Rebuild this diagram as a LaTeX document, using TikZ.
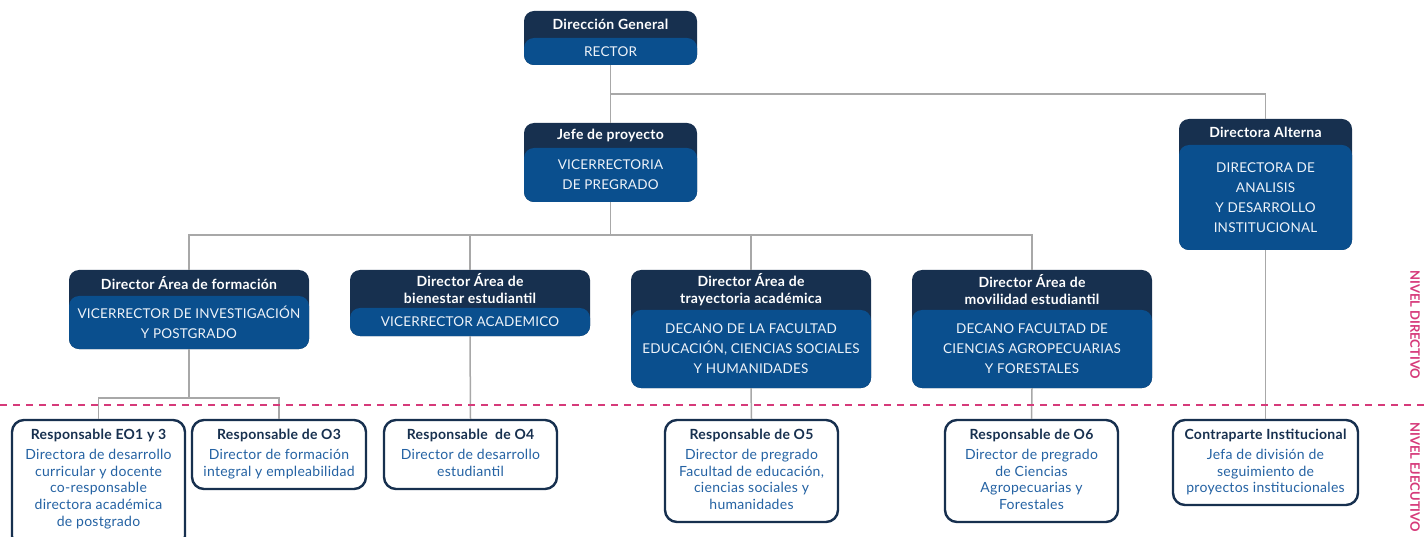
\documentclass[tikz,border=0pt]{standalone}
\usepackage{fontspec}
\setmainfont{Lato}
\definecolor{navy}{HTML}{17304F}
\definecolor{bluebox}{HTML}{0A4F8E}
\definecolor{rtext}{HTML}{2462A3}
\definecolor{pinkl}{HTML}{D63A7A}
\definecolor{conn}{HTML}{A8A8A8}
\definecolor{bodytxt}{HTML}{EEF3F9}
\tikzset{
  frame/.style={inner sep=0pt, draw=none},
  hdr/.style={inner sep=0pt, align=center, text=white, font=\fontsize{14}{17}\selectfont\bfseries\addfontfeature{LetterSpace=2}},
  bdy/.style={inner sep=0pt, align=center, text=bodytxt, font=\fontsize{13.5}{20}\selectfont\addfontfeature{LetterSpace=1.5}},
  resp/.style={draw=navy, line width=2.4pt, rounded corners=12pt, fill=white, inner sep=0pt},
  rtitle/.style={inner sep=0pt, align=center, text=navy, font=\fontsize{14}{16}\selectfont\bfseries\addfontfeature{LetterSpace=2}},
  rbody/.style={inner sep=0pt, align=center, text=rtext, font=\fontsize{14}{16.7}\selectfont\addfontfeature{LetterSpace=2}},
  cline/.style={draw=conn, line width=1.5pt},
  lvl/.style={inner sep=0pt, text=pinkl, font=\fontsize{13}{14}\selectfont\bfseries},
}
\newcommand\OrgBox[8]{%
  \fill[navy, rounded corners=10pt] (#2,#3) rectangle (#4,#5);
  \fill[bluebox, rounded corners=10pt] (#2,#6) rectangle (#4,#5);
  \node[frame, minimum width={#4pt-#2pt}, minimum height={#5pt-#3pt}] (#1) at ({(#2+#4)/2},{(#3+#5)/2}) {};
  \node[hdr] (#1-h) at ({(#2+#4)/2},{(#3+#6)/2}) {#7};
  \node[bdy] (#1-b) at ({(#2+#4)/2},{(#6+#5)/2}) {#8};
}
\newcommand\RespBox[7]{%
  \node[resp, minimum width={#4pt-#2pt}, minimum height={#5pt-#3pt}] (#1) at ({(#2+#4)/2},{(#3+#5)/2}) {};
  \node[rtitle] (#1-t) at ({(#2+#4)/2},{#3+15}) {#6};
  \node[rbody, anchor=north] (#1-b) at ({(#2+#4)/2},{#3+29}) {#7};
}
\begin{document}
\begin{tikzpicture}[x=1pt,y=-1pt]
\useasboundingbox (0,0) rectangle (1424,537);

\coordinate (j1) at (610.5,94);
\coordinate (j2) at (610.5,235);
\coordinate (j3) at (189,398);

\OrgBox{dg}{524}{11}{697}{65}{38}{Dirección General}{RECTOR}
\OrgBox{jefe}{524}{123}{697}{202}{148}{Jefe de proyecto}{VICERRECTORIA\\DE PREGRADO}
\OrgBox{alt}{1179}{119}{1352}{250}{145}{Directora Alterna}{DIRECTORA DE\\ANALISIS\\Y DESARROLLO\\INSTITUCIONAL}
\OrgBox{d1}{69}{270}{309}{349}{296}{Director Área de formación}{VICERRECTOR DE INVESTIGACIÓN\\Y POSTGRADO}
\OrgBox{d2}{350}{270}{590}{336}{308}{Director Área de\\bienestar estudiantil}{VICERRECTOR ACADEMICO}
\OrgBox{d3}{631}{270}{871}{388}{310}{Director Área de\\trayectoria académica}{DECANO DE LA FACULTAD\\EDUCACIÓN, CIENCIAS SOCIALES\\Y HUMANIDADES}
\OrgBox{d4}{912}{270}{1152}{388}{310}{Director Área de\\movilidad estudiantil}{DECANO FACULTAD DE\\CIENCIAS AGROPECUARIAS\\Y FORESTALES}

\RespBox{r1}{12}{420}{185}{548}{Responsable EO1 y 3}{Directora de desarrollo\\curricular y docente\\co-responsable\\directora académica\\de postgrado}
\RespBox{r3}{192}{420}{366}{489}{Responsable de O3}{Director de formación\\integral y empleabilidad}
\RespBox{r4}{384}{420}{557}{489}{Responsable\ \ de O4}{Director de desarrollo\\estudiantil}
\RespBox{r5}{665}{420}{838}{522}{Responsable de O5}{Director de pregrado\\Facultad de educación,\\ciencias sociales y\\humanidades}
\RespBox{r6}{945}{420}{1118}{522}{Responsable de O6}{Director de pregrado\\de Ciencias\\Agropecuarias y\\Forestales}
\RespBox{rc}{1173}{420}{1358}{505}{Contraparte Institucional}{Jefa de división de\\seguimiento de\\proyectos institucionales}

% connectors
\draw[cline] (dg.south) -- (jefe.north);
\draw[cline] (j1) -| (alt.north);
\draw[cline] (jefe.south) -- (j2);
\draw[cline] (d1.north) |- (d4.north |- j2) -- (d4.north);
\draw[cline] (d2.north) -- (d2.north |- j2);
\draw[cline] (d3.north) -- (d3.north |- j2);
\draw[cline] (d1.south) -- (j3);
\draw[cline] (r1.north) |- (r3.north |- j3) -- (r3.north);
\draw[cline] (d2.south) -- (r4.north);
\draw[cline] (d3.south) -- (r5.north);
\draw[cline] (d4.south) -- (r6.north);
\draw[cline] (alt.south) -- (rc.north);

% level separator
\coordinate (sepL) at (0,405);
\coordinate (sepR) at (1424,405);
\draw[pinkl, line width=2.4pt, dash pattern=on 7pt off 6pt] (sepL) -- (sepR);

\node[lvl, rotate=-90, anchor=west] (nd) at (1415,270) {NIVEL DIRECTIVO};
\node[lvl, rotate=-90, anchor=west] (ne) at (1415,422) {NIVEL EJECUTIVO};
\end{tikzpicture}
\end{document}
